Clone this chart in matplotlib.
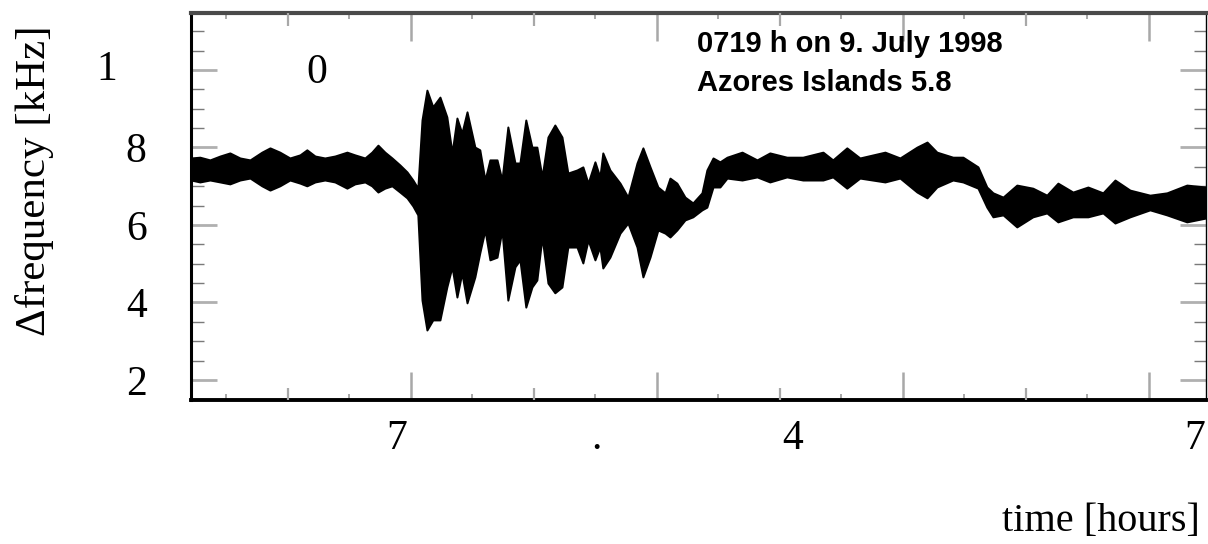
import numpy as np
import matplotlib
matplotlib.use("Agg")
import matplotlib.pyplot as plt
from matplotlib.ticker import MultipleLocator, FixedLocator
import matplotlib.transforms as mtransforms

# ---- data (envelope of the oscillating trace) ----
time_x = [0.106, 0.142, 0.183, 0.224, 0.264, 0.305, 0.346, 0.394, 0.427, 0.467,
          0.508, 0.549, 0.577, 0.610, 0.650, 0.691, 0.740, 0.772, 0.813, 0.841,
          0.866, 0.894, 0.923, 0.955, 0.984, 1.008, 1.028, 1.045, 1.065, 1.089,
          1.118, 1.146, 1.167, 1.187, 1.207, 1.228, 1.260, 1.280, 1.301, 1.321,
          1.350, 1.370, 1.394, 1.423, 1.443, 1.467, 1.492, 1.512, 1.533, 1.557,
          1.585, 1.614, 1.638, 1.675, 1.699, 1.720, 1.748, 1.768, 1.780, 1.809,
          1.850, 1.882, 1.919, 1.943, 1.972, 2.004, 2.033, 2.053, 2.081, 2.114,
          2.146, 2.183, 2.203, 2.228, 2.256, 2.285, 2.346, 2.407, 2.459, 2.528,
          2.593, 2.675, 2.715, 2.772, 2.825, 2.927, 2.988, 3.057, 3.098, 3.138,
          3.203, 3.244, 3.305, 3.341, 3.366, 3.407, 3.463, 3.528, 3.585, 3.630,
          3.691, 3.752, 3.813, 3.862, 3.923, 4.004, 4.073, 4.154, 4.232]
freq_upper = [7.73, 7.75, 7.68, 7.78, 7.86, 7.73, 7.68, 7.88, 7.99, 7.88,
              7.73, 7.81, 7.94, 7.78, 7.73, 7.78, 7.88, 7.81, 7.73, 7.88,
              8.06, 7.88, 7.73, 7.55, 7.37, 7.16, 6.95, 8.71, 9.48, 9.05,
              9.30, 8.79, 7.86, 8.76, 8.37, 8.92, 8.01, 7.94, 7.16, 7.68,
              7.68, 7.16, 8.53, 7.60, 7.60, 8.71, 8.01, 8.01, 7.24, 8.27,
              8.58, 8.27, 7.34, 7.42, 7.50, 7.08, 7.63, 7.24, 7.86, 7.42,
              7.08, 6.72, 7.60, 7.99, 7.50, 6.98, 6.83, 7.21, 7.08, 6.72,
              6.57, 6.83, 7.42, 7.73, 7.63, 7.75, 7.88, 7.68, 7.86, 7.75,
              7.75, 7.88, 7.68, 7.99, 7.73, 7.88, 7.73, 8.01, 8.14, 7.88,
              7.75, 7.75, 7.50, 6.98, 6.83, 6.72, 7.03, 6.95, 6.77, 7.08,
              6.85, 6.98, 6.83, 7.16, 6.90, 6.77, 6.83, 7.03, 6.98]
freq_lower = [7.16, 7.11, 7.16, 7.11, 7.06, 7.16, 7.21, 7.01, 6.90, 7.01,
              7.16, 7.08, 7.01, 7.11, 7.16, 7.11, 6.95, 7.06, 7.11, 7.01,
              6.85, 6.95, 7.01, 6.85, 6.70, 6.49, 6.26, 4.06, 3.29, 3.55,
              3.55, 4.40, 4.92, 4.14, 4.76, 3.99, 4.66, 5.28, 5.87, 5.10,
              5.17, 5.87, 4.06, 4.92, 5.10, 3.88, 4.40, 4.58, 5.69, 4.50,
              4.25, 4.40, 5.43, 5.43, 5.02, 5.61, 5.10, 5.43, 4.89, 5.17,
              5.79, 6.05, 5.43, 4.66, 5.17, 5.87, 5.79, 5.69, 5.87, 6.13,
              6.21, 6.39, 6.46, 6.98, 6.98, 7.21, 7.16, 7.24, 7.11, 7.24,
              7.16, 7.16, 7.24, 6.95, 7.21, 7.11, 7.21, 6.85, 6.70, 6.98,
              7.16, 7.11, 6.95, 6.46, 6.21, 6.26, 5.95, 6.21, 6.31, 6.08,
              6.21, 6.21, 6.31, 6.05, 6.21, 6.39, 6.26, 6.08, 6.18]

y_ticks = [2, 4, 6, 8, 10]
y_tick_labels = ["2", "4", "6", "8", ""]
x_major_ticks = [1, 2, 3, 4]
x_label_pos = [0.943, 1.756, 2.553, 4.187]
x_tick_labels = ["7", ".", "4", "7"]

# ---- figure ----
W, H = 1208, 544
fig = plt.figure(figsize=(W / 100, H / 100), dpi=100)
ax = fig.add_axes([191 / W, 1 - 400 / H, (1206 - 191) / W, (400 - 13) / H])

ax.fill_between(time_x, freq_lower, freq_upper, color="black",
                edgecolor="black", linewidth=1.4, zorder=3)

xlim = (0.106, 4.232)
ylim = (1.484, 11.47)
ax.set_xlim(*xlim)
ax.set_ylim(*ylim)

serif = ["Liberation Serif", "DejaVu Serif"]

# medium x ticks (half-divisions) via a twin axis
ax2 = ax.twiny()
ax2.set_xlim(*xlim)
ax2.set_xticks([0.5, 1.5, 2.5, 3.5])
ax2.xaxis.set_ticks_position("both")
ax2.tick_params(axis="x", direction="in", length=9, width=1.6,
                color="#a8a8a8", labeltop=False, labelbottom=False)
for s in ax2.spines.values():
    s.set_visible(False)

# main ticks
ax.set_xticks(x_major_ticks)
ax.xaxis.set_minor_locator(MultipleLocator(0.25))
ax.xaxis.set_ticks_position("both")
ax.tick_params(axis="x", which="major", direction="in", length=20, width=1.8,
               color="#a8a8a8", labelbottom=False, labeltop=False)
ax.tick_params(axis="x", which="minor", direction="in", length=4.5, width=1.2,
               color="#9a9a9a")

ax.set_yticks(y_ticks)
ax.set_yticklabels(y_tick_labels, fontfamily=serif, fontsize=30)
ax.yaxis.set_minor_locator(MultipleLocator(0.5))
ax.yaxis.set_ticks_position("both")
ax.tick_params(axis="y", which="major", direction="in", length=19, width=2.0,
               color="#b0b0b0", pad=32, labelright=False)
ax.tick_params(axis="y", which="minor", direction="in", length=9, width=1.0,
               color="#7a7a7a")

# x tick labels (as drawn, offset from the ticks)
sec = ax.secondary_xaxis("bottom")
sec.set_xticks(x_label_pos)
sec.set_xticklabels(x_tick_labels, fontfamily=serif, fontsize=30)
sec.tick_params(axis="x", length=0, pad=14)
sec.spines["bottom"].set_visible(False)

# spines
ax.spines["left"].set_linewidth(2.2)
ax.spines["bottom"].set_linewidth(2.8)
ax.spines["top"].set_linewidth(3.0)
ax.spines["top"].set_color("#4a4a4a")
ax.spines["right"].set_linewidth(1.0)
for s in ax.spines.values():
    s.set_zorder(5)

# stray "1" label of the top tick and the "0" inside the frame
trans = mtransforms.blended_transform_factory(ax.transAxes, ax.transData)
ax.text(-0.073, 10, "1", transform=trans, ha="right", va="center",
        fontfamily=serif, fontsize=30)
ax.text(0.618, 9.92, "0", ha="center", va="center",
        fontfamily=serif, fontsize=30)

# annotation
sans = ["Liberation Sans", "DejaVu Sans"]
ax.text(0.4985, 0.899, "0719 h on 9. July 1998", transform=ax.transAxes,
        ha="left", va="baseline", fontfamily=sans, fontsize=21,
        fontweight="bold")
ax.text(0.4985, 0.798, "Azores Islands 5.8", transform=ax.transAxes,
        ha="left", va="baseline", fontfamily=sans, fontsize=21,
        fontweight="bold")

# axis titles
fig.text(35 / W, 1 - 181 / H, "\u0394frequency [kHz]", rotation=90,
         ha="center", va="center", fontfamily=serif, fontsize=31)
fig.text(1200 / W, 1 - 521 / H, "time [hours]", ha="right", va="center",
         fontfamily=serif, fontsize=29)

fig.savefig("out.png", dpi=100)
